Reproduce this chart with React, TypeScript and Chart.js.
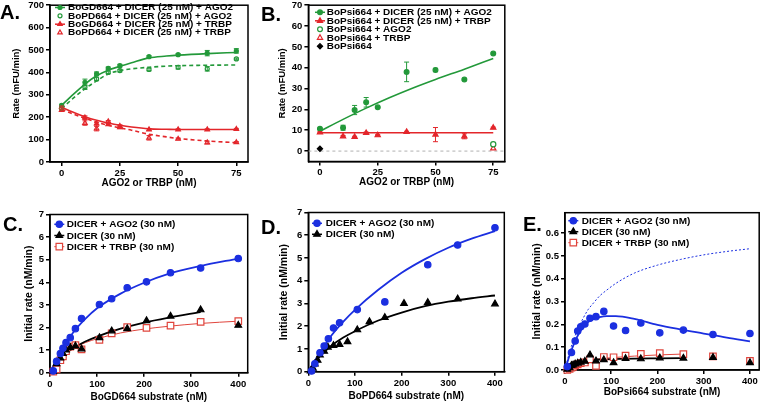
import React, { useEffect, useRef } from 'react';
import { Chart, registerables } from 'chart.js';
Chart.register(...registerables);

const FONT = '"Liberation Sans", Arial, Helvetica, sans-serif';
const GREEN = '#23993a';
const RED = '#e3262b';
const BLUE = '#1b2fe0';
const BLACK = '#000000';
const PINK = '#e0453d';
const GREY = '#b0b0b0';

// ---------- Panel A ----------
const A_X = [0, 10, 15, 20, 25, 37.5, 50, 62.5, 75];
const A_GD_AGO2 = [253, 356, 394, 418, 430, 470, 479, 486, 496];
const A_GD_AGO2_ERR = [5, 14, 8, 6, 6, 4, 4, 12, 10];
const A_PD_AGO2 = [239, 334, 371, 400, 408, 413, 423, 416, 460];
const A_PD_AGO2_ERR = [5, 10, 8, 6, 6, 6, 8, 10, 4];
const A_GD_TRBP = [246, 198, 171, 168, 160, 145, 145, 145, 147];
const A_GD_TRBP_ERR = [4, 8, 6, 4, 6, 4, 3, 3, 3];
const A_PD_TRBP = [232, 174, 149, 181, 155, 108, 103, 87, 88];
const A_PD_TRBP_ERR = [4, 10, 10, 4, 6, 10, 4, 6, 3];
const A_FIT_X = [0, 5, 10, 15, 20, 25, 30, 37.5, 45, 50, 62.5, 75];
const A_GD_AGO2_FIT = [253, 302, 348, 385, 410, 427, 443, 465, 473, 477, 484, 489];
const A_PD_AGO2_FIT = [238, 285, 327, 362, 393, 408, 416, 423, 428, 430, 432, 433];
const A_GD_TRBP_FIT = [244, 222, 202, 186, 174, 164, 156, 148, 146, 145, 145, 145];
const A_PD_TRBP_FIT = [236, 214, 195, 178, 164, 152, 142, 124, 112, 105, 94, 86];
const A_X_TICKS = [0, 25, 50, 75];
const A_Y_TICKS = [0, 100, 200, 300, 400, 500, 600, 700];

// ---------- Panel B ----------
const B_X = [0, 10, 15, 20, 25, 37.5, 50, 62.5, 75];
const B_AGO2 = [10.7, 11.2, 19.7, 23.4, 21.0, 38.0, 38.9, 34.3, 46.8];
const B_AGO2_ERR = [0.4, 1.2, 2.2, 2.3, 0.3, 4.7, 0.8, 0.4, 0.4];
const B_TRBP = [9.0, 7.1, 6.8, 8.7, 7.6, 9.2, 7.9, 7.1, 11.2];
const B_TRBP_ERR = [0.3, 0.4, 0.3, 0.4, 0.3, 0.3, 3.4, 1.2, 0.3];
const B_FIT_X = [0, 10, 20, 30, 40, 50, 62.5, 75];
const B_AGO2_FIT = [9.5, 15.2, 20.6, 25.6, 30.2, 34.4, 39.3, 44.4];
const B_TRBP_FIT_X = [0, 75];
const B_TRBP_FIT = [8.8, 8.8];
const B_AGO2_ONLY_X = [75];
const B_AGO2_ONLY = [3.3];
const B_TRBP_ONLY_X = [75];
const B_TRBP_ONLY = [1.3];
const B_SUB_X = [0];
const B_SUB = [1.1];
const B_ZERO_X = [-5, 80];
const B_ZERO = [0, 0];
const B_X_TICKS = [0, 25, 50, 75];
const B_Y_TICKS = [0, 10, 20, 30, 40, 50, 60, 70];

// ---------- Panel C ----------
const C_X = [7, 14, 22, 27.5, 34, 43, 54, 67, 105, 131, 164, 205, 256, 320, 400];
const C_AGO2 = [0.08, 0.5, 0.85, 1.08, 1.33, 1.55, 1.95, 2.4, 3.02, 3.27, 3.76, 4.02, 4.42, 4.63, 5.05];
const C_DICER = [0.05, 0.4, 0.65, 0.85, 1.0, 1.12, 1.18, 1.05, 1.55, 1.85, 1.95, 2.3, 2.5, 2.78, 2.1];
const C_TRBP = [0.05, 0.15, 0.55, 0.72, 0.95, 1.15, 1.22, 1.03, 1.45, 1.74, 2.02, 1.98, 2.08, 2.25, 2.28];
const C_FIT_X = [0, 10, 25, 50, 75, 100, 150, 200, 250, 320, 400];
const C_AGO2_FIT = [0, 0.42, 1.0, 1.8, 2.38, 2.85, 3.5, 3.98, 4.36, 4.72, 5.05];
const C_TRBP_FIT = [0, 0.3, 0.68, 1.07, 1.33, 1.5, 1.76, 1.93, 2.05, 2.18, 2.28];
const C_DICER_FIT_X = [0, 10, 25, 50, 75, 100, 150, 200, 250, 320];
const C_DICER_FIT = [0, 0.3, 0.68, 1.1, 1.38, 1.6, 1.95, 2.22, 2.43, 2.68];
const CD_X_TICKS = [0, 100, 200, 300, 400];
const CD_Y_TICKS = [0, 1, 2, 3, 4, 5, 6, 7];

// ---------- Panel D ----------
const D_AGO2_X = [7, 14, 25, 34, 43, 54, 67, 105, 164, 256, 320, 400];
const D_AGO2 = [0.03, 0.35, 0.83, 1.13, 1.45, 1.92, 2.15, 2.73, 3.07, 4.7, 5.57, 6.33];
const D_DICER_X = [5, 10, 14, 20, 25, 34, 42, 54, 67, 84, 105, 131, 164, 205, 256, 320, 400];
const D_DICER = [0.03, 0.15, 0.34, 0.5, 0.73, 0.9, 1.08, 1.15, 1.2, 1.32, 1.84, 2.2, 2.38, 3.0, 3.04, 3.2, 2.98];
const D_FIT_X = [0, 10, 25, 50, 75, 100, 150, 200, 250, 300, 350, 400];
const D_AGO2_FIT = [0, 0.35, 0.85, 1.6, 2.2, 2.72, 3.6, 4.35, 4.95, 5.45, 5.85, 6.18];
const D_DICER_FIT = [0, 0.3, 0.68, 1.15, 1.5, 1.78, 2.25, 2.6, 2.88, 3.08, 3.23, 3.35];

// ---------- Panel E ----------
const E_AGO2_X = [5, 14, 22, 27.5, 34, 43, 54, 67, 84, 105, 131, 164, 205, 256, 320, 400];
const E_AGO2 = [0.015, 0.077, 0.127, 0.171, 0.19, 0.202, 0.227, 0.234, 0.257, 0.193, 0.173, 0.206, 0.163, 0.175, 0.156, 0.16];
const E_X = [5, 10, 14, 17.6, 22, 27.5, 34, 43, 54, 67, 84, 105, 131, 164, 205, 256, 320, 400];
const E_DICER = [0.003, 0.01, 0.02, 0.022, 0.026, 0.03, 0.034, 0.038, 0.066, 0.04, 0.045, 0.032, 0.05, 0.049, 0.053, 0.052, 0.055, 0.032];
const E_TRBP = [0.0, 0.005, 0.01, 0.014, 0.02, 0.025, 0.03, 0.033, 0.047, 0.018, 0.057, 0.056, 0.063, 0.071, 0.074, 0.07, 0.06, 0.04];
const E_FIT_X = [0, 10, 20, 30, 40, 50, 60, 75, 90, 110, 150, 200, 250, 300, 350, 400];
const E_AGO2_FIT = [0, 0.065, 0.118, 0.16, 0.19, 0.21, 0.222, 0.232, 0.236, 0.236, 0.224, 0.198, 0.178, 0.16, 0.142, 0.126];
const E_AGO2_MM = [0, 0.08, 0.14, 0.19, 0.23, 0.265, 0.29, 0.325, 0.35, 0.38, 0.425, 0.46, 0.485, 0.505, 0.52, 0.532];
const E_LOW_FIT_X = [0, 10, 20, 30, 40, 50, 75, 100, 150, 200, 256];
const E_DICER_FIT = [0, 0.016, 0.027, 0.034, 0.039, 0.042, 0.046, 0.048, 0.05, 0.051, 0.052];
const E_TRBP_FIT = [0, 0.012, 0.022, 0.03, 0.036, 0.041, 0.049, 0.054, 0.061, 0.066, 0.07];
const E_X_TICKS = [0, 100, 200, 300, 400];
const E_Y_TICKS = [0, 0.1, 0.2, 0.3, 0.4, 0.5, 0.6];

// ---------- helpers ----------
const pts = (xs: number[], ys: number[]) => xs.map((x, i) => ({ x, y: ys[i] }));

function pointSet(xs: number[], ys: number[], color: string, style: string, r: number, filled: boolean, errors?: number[]) {
  return {
    data: pts(xs, ys),
    showLine: false,
    pointStyle: style,
    pointRadius: r,
    pointBorderWidth: 1.2,
    pointBorderColor: color,
    pointBackgroundColor: filled ? color : '#ffffff',
    borderColor: color,
    backgroundColor: filled ? color : '#ffffff',
    clip: false,
    errors,
  };
}

function lineSet(xs: number[], ys: number[], color: string, width: number, dash: number[] = []) {
  return {
    data: pts(xs, ys),
    showLine: true,
    pointRadius: 0,
    borderColor: color,
    borderWidth: width,
    borderDash: dash,
    cubicInterpolationMode: 'monotone',
    fill: false,
  };
}

function drawMarker(ctx: CanvasRenderingContext2D, style: string, x: number, y: number, r: number, color: string, filled: boolean) {
  ctx.beginPath();
  if (style === 'circle') {
    ctx.arc(x, y, r, 0, Math.PI * 2);
  } else if (style === 'triangle') {
    for (let k = 0; k < 3; k++) {
      const a = (k * 2 * Math.PI) / 3;
      const px = x + Math.sin(a) * r;
      const py = y - Math.cos(a) * r;
      if (k === 0) ctx.moveTo(px, py); else ctx.lineTo(px, py);
    }
    ctx.closePath();
  } else if (style === 'rect') {
    const s = r * Math.SQRT1_2;
    ctx.rect(x - s, y - s, 2 * s, 2 * s);
  } else if (style === 'rectRot') {
    ctx.moveTo(x, y - r);
    ctx.lineTo(x + r, y);
    ctx.lineTo(x, y + r);
    ctx.lineTo(x - r, y);
    ctx.closePath();
  }
  ctx.fillStyle = filled ? color : '#ffffff';
  ctx.fill();
  ctx.lineWidth = 1.2;
  ctx.strokeStyle = color;
  ctx.stroke();
}

type LegendItem = { text: string; color: string; style: string; r: number; filled: boolean; line: boolean; lw?: number };

function legendPlugin(items: LegendItem[], markerX: number, textX: number, y0: number, dy: number, half: number, squish = 0.85) {
  return {
    id: 'insideLegend',
    afterDraw(chart: any) {
      const ctx = chart.ctx as CanvasRenderingContext2D;
      ctx.save();
      ctx.font = `bold 10px ${FONT}`;
      ctx.textBaseline = 'middle';
      ctx.textAlign = 'left';
      items.forEach((it, i) => {
        const y = y0 + i * dy;
        if (it.line) {
          ctx.strokeStyle = it.color;
          ctx.lineWidth = it.lw || 1.5;
          ctx.beginPath();
          ctx.moveTo(markerX - half, y);
          ctx.lineTo(markerX + half, y);
          ctx.stroke();
        }
        drawMarker(ctx, it.style, markerX, y, it.r, it.color, it.filled);
        ctx.save();
        ctx.translate(textX, y + 0.5);
        ctx.scale(1, squish);
        ctx.fillStyle = '#000';
        ctx.fillText(it.text, 0, 0);
        ctx.restore();
      });
      ctx.restore();
    },
  };
}

const framePlugin = {
  id: 'frame',
  beforeDatasetsDraw(chart: any) {
    const { ctx, chartArea } = chart;
    ctx.save();
    ctx.strokeStyle = '#000';
    ctx.lineWidth = 1.5;
    ctx.strokeRect(chartArea.left, chartArea.top, chartArea.right - chartArea.left, chartArea.bottom - chartArea.top);
    ctx.restore();
  },
};

const errorBarPlugin = {
  id: 'errorBars',
  afterDatasetsDraw(chart: any) {
    const ctx = chart.ctx as CanvasRenderingContext2D;
    const xs = chart.scales.x;
    const ys = chart.scales.y;
    ctx.save();
    chart.data.datasets.forEach((ds: any) => {
      if (!ds.errors) return;
      ctx.strokeStyle = ds.borderColor;
      ctx.lineWidth = 1;
      ds.data.forEach((p: any, i: number) => {
        const e = ds.errors[i];
        if (!e) return;
        const px = xs.getPixelForValue(p.x);
        const top = ys.getPixelForValue(p.y + e);
        const bot = ys.getPixelForValue(p.y - e);
        ctx.beginPath();
        ctx.moveTo(px, top);
        ctx.lineTo(px, bot);
        ctx.moveTo(px - 2.5, top);
        ctx.lineTo(px + 2.5, top);
        ctx.moveTo(px - 2.5, bot);
        ctx.lineTo(px + 2.5, bot);
        ctx.stroke();
      });
    });
    ctx.restore();
  },
};

type Spec = {
  left: number; top: number; w: number; h: number;
  area: { left: number; top: number; right: number; bottom: number };
  xMin: number; xMax: number; yMin: number; yMax: number;
  xTicks: number[]; yTicks: number[];
  yFmt?: (v: number) => string;
  xTitle: string; yTitle: string;
  xTitlePad: number; yTitlePad: number; yTitleSize: number;
  datasets: any[];
  legend: any;
};

function makeConfig(p: Spec) {
  const tickFont = { family: FONT, size: 9.5, weight: 'bold' as const };
  const grid = { display: true, drawOnChartArea: false, drawTicks: true, tickLength: 4, tickWidth: 1.5, tickColor: '#000', color: '#000', lineWidth: 1.5 };
  const border = { display: true, color: '#000', width: 1.5 };
  const zeroPad = (s: any) => { s.paddingTop = 0; s.paddingBottom = 0; s.paddingLeft = 0; s.paddingRight = 0; };
  return {
    type: 'scatter',
    data: { datasets: p.datasets },
    options: {
      animation: false,
      responsive: false,
      devicePixelRatio: 1,
      layout: { padding: { left: 0, top: p.area.top, right: p.w - p.area.right, bottom: 0 } },
      plugins: { legend: { display: false }, tooltip: { enabled: false } },
      scales: {
        x: {
          type: 'linear', min: p.xMin, max: p.xMax,
          afterBuildTicks: (s: any) => { s.ticks = p.xTicks.map((v) => ({ value: v })); },
          afterFit: (s: any) => { s.height = p.h - p.area.bottom; zeroPad(s); },
          grid, border,
          ticks: { color: '#000', font: tickFont, padding: 1.5, autoSkip: false, maxRotation: 0, callback: (v: any) => String(v) },
          title: { display: true, text: p.xTitle, color: '#000', font: { family: FONT, size: 10, weight: 'bold' }, padding: { top: 0, bottom: p.xTitlePad } },
        },
        y: {
          type: 'linear', min: p.yMin, max: p.yMax,
          afterBuildTicks: (s: any) => { s.ticks = p.yTicks.map((v) => ({ value: v })); },
          afterFit: (s: any) => { s.width = p.area.left; zeroPad(s); },
          grid, border,
          ticks: { color: '#000', font: tickFont, padding: 2, autoSkip: false, callback: (v: any) => (p.yFmt ? p.yFmt(Number(v)) : String(v)) },
          title: { display: true, text: p.yTitle, color: '#000', font: { family: FONT, size: p.yTitleSize, weight: 'bold' }, padding: { top: p.yTitlePad, bottom: 0 } },
        },
      },
    },
    plugins: [framePlugin, errorBarPlugin, p.legend],
  };
}

// ---------- specs ----------
const specA: Spec = {
  left: 0, top: 0, w: 255, h: 200,
  area: { left: 50, top: 4, right: 248, bottom: 162 },
  xMin: -5, xMax: 80, yMin: 0, yMax: 700,
  xTicks: A_X_TICKS, yTicks: A_Y_TICKS,
  xTitle: 'AGO2 or TRBP (nM)', yTitle: 'Rate (mFU/min)',
  xTitlePad: 11, yTitlePad: 11, yTitleSize: 9.5,
  datasets: [
    lineSet(A_FIT_X, A_GD_AGO2_FIT, GREEN, 1.6),
    lineSet(A_FIT_X, A_PD_AGO2_FIT, GREEN, 1.6, [4, 3]),
    lineSet(A_FIT_X, A_GD_TRBP_FIT, RED, 1.6),
    lineSet(A_FIT_X, A_PD_TRBP_FIT, RED, 1.6, [4, 3]),
    pointSet(A_X, A_GD_AGO2, GREEN, 'circle', 2, true, A_GD_AGO2_ERR),
    pointSet(A_X, A_PD_AGO2, GREEN, 'circle', 2, false, A_PD_AGO2_ERR),
    pointSet(A_X, A_GD_TRBP, RED, 'triangle', 2.6, true, A_GD_TRBP_ERR),
    pointSet(A_X, A_PD_TRBP, RED, 'triangle', 2.6, false, A_PD_TRBP_ERR),
  ],
  legend: legendPlugin([
    { text: 'BoGD664 + DICER (25 nM) + AGO2', color: GREEN, style: 'circle', r: 2, filled: true, line: true },
    { text: 'BoPD664 + DICER (25 nM) + AGO2', color: GREEN, style: 'circle', r: 2, filled: false, line: false },
    { text: 'BoGD664 + DICER (25 nM) + TRBP', color: RED, style: 'triangle', r: 2.6, filled: true, line: true },
    { text: 'BoPD664 + DICER (25 nM) + TRBP', color: RED, style: 'triangle', r: 2.6, filled: false, line: false },
  ], 60, 68, 7.5, 8.35, 5),
};

const specB: Spec = {
  left: 255, top: 0, w: 255, h: 200,
  area: { left: 53.4, top: 3.5, right: 251, bottom: 161.5 },
  xMin: -5, xMax: 80, yMin: -5, yMax: 70,
  xTicks: B_X_TICKS, yTicks: B_Y_TICKS,
  xTitle: 'AGO2 or TRBP (nM)', yTitle: 'Rate (mFU/min)',
  xTitlePad: 11.7, yTitlePad: 22, yTitleSize: 9.5,
  datasets: [
    pointSet(B_X, B_AGO2, GREEN, 'circle', 2.4, true, B_AGO2_ERR),
    pointSet(B_X, B_TRBP, RED, 'triangle', 3, true, B_TRBP_ERR),
    pointSet(B_AGO2_ONLY_X, B_AGO2_ONLY, GREEN, 'circle', 2.6, false),
    pointSet(B_TRBP_ONLY_X, B_TRBP_ONLY, RED, 'triangle', 3, false),
    pointSet(B_SUB_X, B_SUB, BLACK, 'rectRot', 2.6, true),
    lineSet(B_FIT_X, B_AGO2_FIT, GREEN, 1.6),
    lineSet(B_TRBP_FIT_X, B_TRBP_FIT, RED, 1.6),
    lineSet(B_ZERO_X, B_ZERO, GREY, 1, [3, 3]),
  ],
  legend: legendPlugin([
    { text: 'BoPsi664 + DICER (25 nM) + AGO2', color: GREEN, style: 'circle', r: 2.4, filled: true, line: true },
    { text: 'BoPsi664 + DICER (25 nM) + TRBP', color: RED, style: 'triangle', r: 3, filled: true, line: true },
    { text: 'BoPsi664 + AGO2', color: GREEN, style: 'circle', r: 2.4, filled: false, line: false },
    { text: 'BoPsi664 + TRBP', color: RED, style: 'triangle', r: 3, filled: false, line: false },
    { text: 'BoPsi664', color: BLACK, style: 'rectRot', r: 2.6, filled: true, line: false },
  ], 65, 71.7, 12.3, 8.5, 5),
};

const specC: Spec = {
  left: 0, top: 200, w: 255, h: 210,
  area: { left: 50, top: 14.5, right: 247.7, bottom: 172.7 },
  xMin: 0, xMax: 420, yMin: 0, yMax: 7,
  xTicks: CD_X_TICKS, yTicks: CD_Y_TICKS,
  xTitle: 'BoGD664 substrate (nM)', yTitle: 'Initial rate (nM/min)',
  xTitlePad: 7, yTitlePad: 23, yTitleSize: 10.5,
  datasets: [
    pointSet(C_X, C_AGO2, BLUE, 'circle', 3.2, true),
    pointSet(C_X, C_DICER, BLACK, 'triangle', 3.8, true),
    pointSet(C_X, C_TRBP, PINK, 'rect', 4.6, false),
    lineSet(C_FIT_X, C_AGO2_FIT, BLUE, 1.8),
    lineSet(C_DICER_FIT_X, C_DICER_FIT, BLACK, 1.8),
    lineSet(C_FIT_X, C_TRBP_FIT, PINK, 1),
  ],
  legend: legendPlugin([
    { text: 'DICER + AGO2 (30 nM)', color: BLUE, style: 'circle', r: 3.2, filled: true, line: true },
    { text: 'DICER (30 nM)', color: BLACK, style: 'triangle', r: 3.8, filled: true, line: true },
    { text: 'DICER + TRBP (30 nM)', color: PINK, style: 'rect', r: 4.6, filled: false, line: true, lw: 1 },
  ], 59.3, 66.7, 24.3, 11.2, 5, 0.92),
};

const specD: Spec = {
  left: 255, top: 200, w: 255, h: 210,
  area: { left: 53.3, top: 12.5, right: 249.3, bottom: 171.7 },
  xMin: 0, xMax: 420, yMin: 0, yMax: 7,
  xTicks: CD_X_TICKS, yTicks: CD_Y_TICKS,
  xTitle: 'BoPD664 substrate (nM)', yTitle: 'Initial rate (nM/min)',
  xTitlePad: 8, yTitlePad: 23, yTitleSize: 10.5,
  datasets: [
    pointSet(D_AGO2_X, D_AGO2, BLUE, 'circle', 3.2, true),
    pointSet(D_DICER_X, D_DICER, BLACK, 'triangle', 3.8, true),
    lineSet(D_FIT_X, D_AGO2_FIT, BLUE, 1.8),
    lineSet(D_FIT_X, D_DICER_FIT, BLACK, 1.8),
  ],
  legend: legendPlugin([
    { text: 'DICER + AGO2 (30 nM)', color: BLUE, style: 'circle', r: 3.2, filled: true, line: true },
    { text: 'DICER (30 nM)', color: BLACK, style: 'triangle', r: 3.8, filled: true, line: true },
  ], 62, 70.7, 23.3, 11, 5, 0.92),
};

const specE: Spec = {
  left: 505, top: 200, w: 260, h: 210,
  area: { left: 60, top: 12.7, right: 257.5, bottom: 170 },
  xMin: 0, xMax: 420, yMin: 0, yMax: 0.69,
  xTicks: E_X_TICKS, yTicks: E_Y_TICKS,
  yFmt: (v) => v.toFixed(1),
  xTitle: 'BoPsi664 substrate (nM)', yTitle: 'Initial rate (nM/min)',
  xTitlePad: 12, yTitlePad: 26, yTitleSize: 10.5,
  datasets: [
    pointSet(E_AGO2_X, E_AGO2, BLUE, 'circle', 3.2, true),
    pointSet(E_X, E_DICER, BLACK, 'triangle', 3.8, true),
    pointSet(E_X, E_TRBP, PINK, 'rect', 4.6, false),
    lineSet(E_FIT_X, E_AGO2_FIT, BLUE, 1.8),
    lineSet(E_FIT_X, E_AGO2_MM, BLUE, 1, [2, 2]),
    lineSet(E_LOW_FIT_X, E_DICER_FIT, BLACK, 1.8),
    lineSet(E_LOW_FIT_X, E_TRBP_FIT, PINK, 1),
  ],
  legend: legendPlugin([
    { text: 'DICER + AGO2 (30 nM)', color: BLUE, style: 'circle', r: 3.2, filled: true, line: true },
    { text: 'DICER (30 nM)', color: BLACK, style: 'triangle', r: 3.8, filled: true, line: true },
    { text: 'DICER + TRBP (30 nM)', color: PINK, style: 'rect', r: 4.6, filled: false, line: true, lw: 1 },
  ], 68.3, 76.7, 20.7, 11, 5, 0.92),
};

const LETTERS = [
  { t: 'A.', left: 0, top: 2.4 },
  { t: 'B.', left: 261, top: 4.1 },
  { t: 'C.', left: 3, top: 214.1 },
  { t: 'D.', left: 261, top: 217.4 },
  { t: 'E.', left: 523, top: 214.1 },
];

function Panel({ spec }: { spec: Spec }) {
  const ref = useRef<HTMLCanvasElement | null>(null);
  useEffect(() => {
    if (!ref.current) return;
    const chart = new Chart(ref.current, makeConfig(spec) as any);
    return () => chart.destroy();
  }, [spec]);
  return (
    <canvas
      ref={ref}
      width={spec.w}
      height={spec.h}
      style={{ position: 'absolute', left: spec.left, top: spec.top, width: spec.w, height: spec.h }}
    />
  );
}

export default function App() {
  return (
    <div style={{ position: 'absolute', left: 0, top: 0, width: 765, height: 402, overflow: 'hidden', background: '#fff' }}>
      {[specA, specB, specC, specD, specE].map((s, i) => (
        <Panel key={i} spec={s} />
      ))}
      {LETTERS.map((l) => (
        <div
          key={l.t}
          style={{ position: 'absolute', left: l.left, top: l.top, font: `bold 20px ${FONT}`, lineHeight: '20px', color: '#000' }}
        >
          {l.t}
        </div>
      ))}
    </div>
  );
}
